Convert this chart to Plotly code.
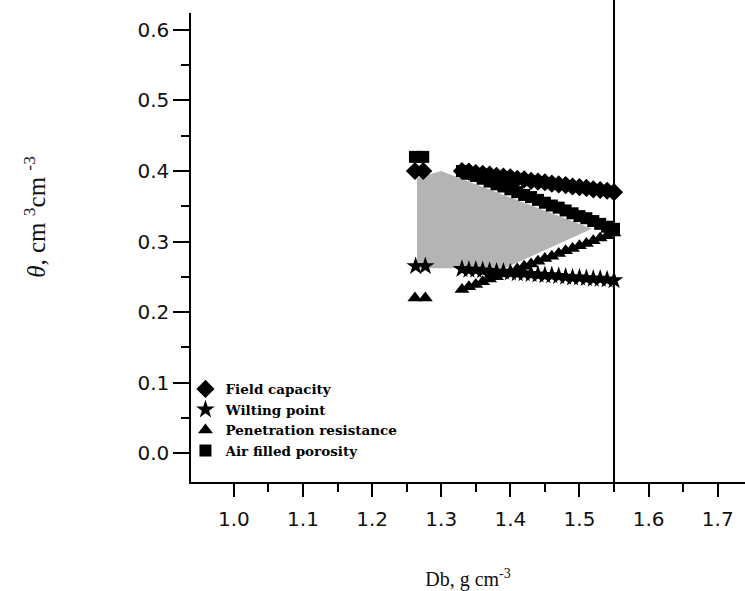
import plotly.graph_objects as go

# Bulk density grid for the dense series (g cm-3)
db_dense = [1.33, 1.34, 1.35, 1.36, 1.37, 1.38, 1.39, 1.40, 1.41, 1.42, 1.43, 1.44,
            1.45, 1.46, 1.47, 1.48, 1.49, 1.50, 1.51, 1.52, 1.53, 1.54, 1.55]

# Water content limits (cm3 cm-3)
fc_x = [1.262, 1.274] + db_dense
fc_y = [0.400, 0.400,
        0.400, 0.399, 0.397, 0.396, 0.395, 0.393, 0.392, 0.391, 0.389, 0.388, 0.386, 0.385,
        0.384, 0.382, 0.381, 0.380, 0.378, 0.377, 0.376, 0.374, 0.373, 0.372, 0.370]

wp_x = [1.263, 1.277] + db_dense
wp_y = [0.265, 0.265,
        0.261, 0.260, 0.260, 0.259, 0.258, 0.257, 0.257, 0.256, 0.255, 0.255, 0.254, 0.253,
        0.252, 0.252, 0.251, 0.250, 0.249, 0.249, 0.248, 0.247, 0.247, 0.246, 0.245]

pr_x = [1.262, 1.277] + db_dense
pr_y = [0.220, 0.220,
        0.232, 0.236, 0.239, 0.243, 0.247, 0.250, 0.254, 0.257, 0.261, 0.265, 0.268, 0.272,
        0.276, 0.279, 0.283, 0.287, 0.290, 0.294, 0.297, 0.301, 0.305, 0.308, 0.312]

afp_x = [1.262, 1.274] + db_dense
afp_y = [0.420, 0.420,
         0.400, 0.396, 0.393, 0.389, 0.385, 0.381, 0.378, 0.374, 0.370, 0.366, 0.363, 0.359,
         0.355, 0.351, 0.348, 0.344, 0.340, 0.336, 0.333, 0.329, 0.325, 0.321, 0.318]

# Least limiting water range region
llwr_x = [1.265, 1.300, 1.518, 1.392, 1.265, 1.265]
llwr_y = [0.390, 0.400, 0.318, 0.262, 0.262, 0.390]

critical_db = 1.55

x_ticks = [1.0, 1.1, 1.2, 1.3, 1.4, 1.5, 1.6, 1.7]
x_minor = [1.05, 1.15, 1.25, 1.35, 1.45, 1.55, 1.65]
y_ticks = [0.0, 0.1, 0.2, 0.3, 0.4, 0.5, 0.6]
y_minor = [0.05, 0.15, 0.25, 0.35, 0.45, 0.55]

fig = go.Figure()

fig.add_trace(go.Scatter(
    x=llwr_x, y=llwr_y, mode="lines", fill="toself",
    fillcolor="rgb(180,180,180)", line=dict(width=0),
    showlegend=False, hoverinfo="skip"))

series = [
    ("Field capacity", fc_x, fc_y, "diamond", 14),
    ("Wilting point", wp_x, wp_y, "star", 14),
    ("Penetration resistance", pr_x, pr_y, "triangle-up", 13),
    ("Air filled porosity", afp_x, afp_y, "square", 12),
]
for name, xs, ys, sym, size in series:
    fig.add_trace(go.Scatter(
        x=xs, y=ys, mode="markers", name=name,
        marker=dict(symbol=sym, size=size, color="black", line=dict(width=0))))

fig.add_shape(type="line", xref="x", yref="paper",
              x0=critical_db, x1=critical_db, y0=0, y1=1.03,
              line=dict(color="black", width=2))

tick_font = dict(family="DejaVu Sans", size=20, color="#111111")

fig.update_xaxes(
    range=[0.938, 1.7395], tickvals=x_ticks, ticktext=[f"{v:.1f}" for v in x_ticks],
    showline=True, linecolor="black", linewidth=1.5,
    ticks="outside", ticklen=13, tickwidth=1.5, tickcolor="black",
    minor=dict(ticks="outside", ticklen=8, tickwidth=1.5, tickcolor="black", tickvals=x_minor),
    showgrid=False, zeroline=False, tickfont=tick_font, ticklabelstandoff=5,
    title=dict(text="Db, g cm<sup>-3</sup>",
               font=dict(family="Liberation Serif", size=20, color="#111111"), standoff=46))

fig.update_yaxes(
    range=[-0.041, 0.624], tickvals=y_ticks, ticktext=[f"{v:.1f}" for v in y_ticks],
    showline=True, linecolor="black", linewidth=1.5,
    ticks="outside", ticklen=16, tickwidth=1.5, tickcolor="black",
    minor=dict(ticks="outside", ticklen=8, tickwidth=1.5, tickcolor="black", tickvals=y_minor),
    showgrid=False, zeroline=False, tickfont=tick_font)

fig.add_annotation(
    text="<i>θ</i>, cm <sup>3</sup>cm <sup>-3</sup>", xref="paper", yref="paper",
    x=-0.282, y=0.565, xanchor="center", yanchor="middle", textangle=-90, showarrow=False,
    font=dict(family="Liberation Serif", size=25, color="#111111"))

fig.update_layout(
    width=745, height=591,
    margin=dict(l=191, r=0, t=13, b=107),
    paper_bgcolor="white", plot_bgcolor="white",
    legend=dict(x=-0.01, y=0.231, xanchor="left", yanchor="top",
                bgcolor="rgba(0,0,0,0)", borderwidth=0, tracegroupgap=0,
                font=dict(family="DejaVu Serif", size=13.5, color="black", weight="bold")),
)

fig.write_html("out.html")
